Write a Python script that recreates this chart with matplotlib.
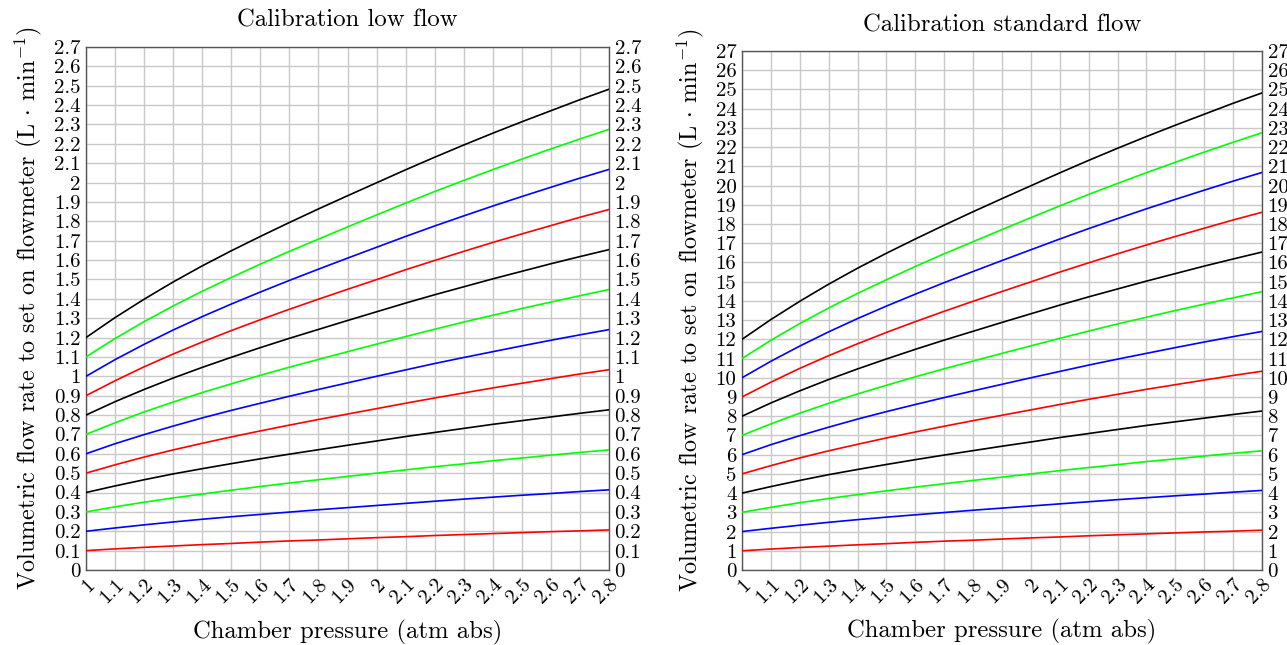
import numpy as np
import matplotlib
matplotlib.use("Agg")
import matplotlib.pyplot as plt

plt.rcParams['font.family'] = ['cmr10', 'DejaVu Serif']
plt.rcParams['mathtext.fontset'] = 'cm'
plt.rcParams['axes.unicode_minus'] = False
plt.rcParams['axes.formatter.use_mathtext'] = True

# Chamber pressure (atm abs)
pressure = [1.0, 1.1, 1.2, 1.3, 1.4, 1.5, 1.6, 1.7, 1.8, 1.9,
            2.0, 2.1, 2.2, 2.3, 2.4, 2.5, 2.6, 2.7, 2.8]

# Low flow curves (L/min)
low_flow = [
    [0.100, 0.109, 0.117, 0.124, 0.131, 0.137, 0.144, 0.150, 0.155, 0.161, 0.167, 0.172, 0.178, 0.183, 0.188, 0.193, 0.198, 0.202, 0.207],
    [0.200, 0.217, 0.233, 0.248, 0.262, 0.275, 0.287, 0.299, 0.311, 0.322, 0.333, 0.344, 0.355, 0.366, 0.376, 0.386, 0.395, 0.405, 0.414],
    [0.300, 0.326, 0.350, 0.372, 0.392, 0.412, 0.431, 0.449, 0.466, 0.483, 0.500, 0.517, 0.533, 0.548, 0.564, 0.578, 0.593, 0.607, 0.620],
    [0.400, 0.434, 0.466, 0.496, 0.523, 0.549, 0.574, 0.598, 0.621, 0.644, 0.666, 0.689, 0.710, 0.731, 0.752, 0.771, 0.790, 0.809, 0.827],
    [0.500, 0.543, 0.583, 0.620, 0.654, 0.687, 0.718, 0.748, 0.777, 0.805, 0.833, 0.861, 0.888, 0.914, 0.940, 0.964, 0.988, 1.012, 1.034],
    [0.600, 0.652, 0.699, 0.743, 0.785, 0.824, 0.861, 0.897, 0.932, 0.966, 1.000, 1.033, 1.066, 1.097, 1.127, 1.157, 1.186, 1.214, 1.241],
    [0.700, 0.760, 0.816, 0.867, 0.916, 0.961, 1.005, 1.047, 1.087, 1.127, 1.166, 1.205, 1.243, 1.280, 1.315, 1.350, 1.383, 1.416, 1.448],
    [0.800, 0.869, 0.932, 0.991, 1.046, 1.098, 1.148, 1.196, 1.242, 1.288, 1.333, 1.378, 1.421, 1.462, 1.503, 1.542, 1.581, 1.618, 1.654],
    [0.900, 0.977, 1.049, 1.115, 1.177, 1.236, 1.292, 1.346, 1.398, 1.449, 1.499, 1.550, 1.598, 1.645, 1.691, 1.735, 1.778, 1.821, 1.861],
    [1.000, 1.086, 1.165, 1.239, 1.308, 1.373, 1.435, 1.495, 1.553, 1.610, 1.666, 1.722, 1.776, 1.828, 1.879, 1.928, 1.976, 2.023, 2.068],
    [1.100, 1.195, 1.282, 1.363, 1.439, 1.510, 1.579, 1.645, 1.708, 1.771, 1.833, 1.894, 1.954, 2.011, 2.067, 2.121, 2.174, 2.225, 2.275],
    [1.200, 1.303, 1.398, 1.487, 1.570, 1.648, 1.722, 1.794, 1.864, 1.932, 1.999, 2.066, 2.131, 2.194, 2.255, 2.314, 2.371, 2.428, 2.482],
]

# Standard flow curves (L/min)
std_flow = [
    [1.00, 1.09, 1.17, 1.24, 1.31, 1.37, 1.44, 1.50, 1.55, 1.61, 1.67, 1.72, 1.78, 1.83, 1.88, 1.93, 1.98, 2.02, 2.07],
    [2.00, 2.17, 2.33, 2.48, 2.62, 2.75, 2.87, 2.99, 3.11, 3.22, 3.33, 3.44, 3.55, 3.66, 3.76, 3.86, 3.95, 4.05, 4.14],
    [3.00, 3.26, 3.50, 3.72, 3.92, 4.12, 4.31, 4.49, 4.66, 4.83, 5.00, 5.17, 5.33, 5.48, 5.64, 5.78, 5.93, 6.07, 6.20],
    [4.00, 4.34, 4.66, 4.96, 5.23, 5.49, 5.74, 5.98, 6.21, 6.44, 6.66, 6.89, 7.10, 7.31, 7.52, 7.71, 7.90, 8.09, 8.27],
    [5.00, 5.43, 5.83, 6.20, 6.54, 6.87, 7.18, 7.48, 7.77, 8.05, 8.33, 8.61, 8.88, 9.14, 9.40, 9.64, 9.88, 10.12, 10.34],
    [6.00, 6.52, 6.99, 7.43, 7.85, 8.24, 8.61, 8.97, 9.32, 9.66, 10.00, 10.33, 10.66, 10.97, 11.27, 11.57, 11.86, 12.14, 12.41],
    [7.00, 7.60, 8.16, 8.67, 9.16, 9.61, 10.05, 10.47, 10.87, 11.27, 11.66, 12.05, 12.43, 12.80, 13.15, 13.50, 13.83, 14.16, 14.48],
    [8.00, 8.69, 9.32, 9.91, 10.46, 10.98, 11.48, 11.96, 12.42, 12.88, 13.33, 13.78, 14.21, 14.62, 15.03, 15.42, 15.81, 16.18, 16.54],
    [9.00, 9.77, 10.49, 11.15, 11.77, 12.36, 12.92, 13.46, 13.98, 14.49, 14.99, 15.50, 15.98, 16.45, 16.91, 17.35, 17.78, 18.21, 18.61],
    [10.00, 10.86, 11.65, 12.39, 13.08, 13.73, 14.35, 14.95, 15.53, 16.10, 16.66, 17.22, 17.76, 18.28, 18.79, 19.28, 19.76, 20.23, 20.68],
    [11.00, 11.95, 12.82, 13.63, 14.39, 15.10, 15.79, 16.45, 17.08, 17.71, 18.33, 18.94, 19.54, 20.11, 20.67, 21.21, 21.74, 22.25, 22.75],
    [12.00, 13.03, 13.98, 14.87, 15.70, 16.48, 17.22, 17.94, 18.64, 19.32, 19.99, 20.66, 21.31, 21.94, 22.55, 23.14, 23.71, 24.28, 24.82],
]

x_ticks = [1.0, 1.1, 1.2, 1.3, 1.4, 1.5, 1.6, 1.7, 1.8, 1.9, 2.0, 2.1, 2.2, 2.3, 2.4, 2.5, 2.6, 2.7, 2.8]
low_yticks = [round(0.1 * i, 1) for i in range(28)]
std_yticks = list(range(28))

line_colors = ['#ff0000', '#0000ff', '#00ff00', '#000000']

ylabel = r'Volumetric flow rate to set on flowmeter (L $\cdot$ min$^{-1}$)'
xlabel = 'Chamber pressure (atm abs)'

W, H = 1287, 645
fig = plt.figure(figsize=(W / 100, H / 100), dpi=100)

# axes boxes in pixels: left, top, right, bottom
boxes = [(86, 47, 609, 570), (742, 51, 1262, 570)]
ax_low = fig.add_axes([boxes[0][0] / W, 1 - boxes[0][3] / H,
                       (boxes[0][2] - boxes[0][0]) / W, (boxes[0][3] - boxes[0][1]) / H])
ax_std = fig.add_axes([boxes[1][0] / W, 1 - boxes[1][3] / H,
                       (boxes[1][2] - boxes[1][0]) / W, (boxes[1][3] - boxes[1][1]) / H])


def fmt(v):
    return f"{v:g}"


def draw_panel(ax, curves, yticks, title, ymax, ylab_x, title_off):
    for i, c in enumerate(curves):
        ax.plot(pressure, c, color=line_colors[i % 4], lw=1.2, zorder=3)
    ax.set_xlim(1.0, 2.8)
    ax.set_ylim(0, ymax)
    ax.set_xticks(x_ticks)
    ax.set_xticklabels([fmt(v) for v in x_ticks], rotation=45, ha='right',
                       va='top', rotation_mode='anchor')
    ax.set_yticks(yticks)
    ax.set_yticklabels([fmt(v) for v in yticks])
    ax.tick_params(axis='both', which='both', length=0, labelsize=15, pad=4)
    ax.tick_params(axis='y', labelright=True, right=True)
    ax.tick_params(axis='x', pad=4)
    ax.grid(True, color='#c8c8c8', lw=1.0, zorder=0)
    for s in ax.spines.values():
        s.set_color('#555555')
        s.set_linewidth(1.0)
    ax.set_ylabel(ylabel, fontsize=17.5)
    ax.yaxis.set_label_coords(ylab_x, 0.5)
    ax.yaxis.label.set_va('center')
    ax.set_xlabel(xlabel, fontsize=17.8)
    ax.xaxis.set_label_coords(0.5, -62 / 523)
    ax.xaxis.label.set_va('center')
    ax.text(0.5, 1 + title_off, title, transform=ax.transAxes, ha='center',
            va='center', fontsize=17.8)


draw_panel(ax_low, low_flow, low_yticks, 'Calibration low flow', 2.7, -58 / 523, 27 / 523)
draw_panel(ax_std, std_flow, std_yticks, 'Calibration standard flow', 27, -52 / 520, 26 / 519)

fig.savefig('out.png', dpi=100)
